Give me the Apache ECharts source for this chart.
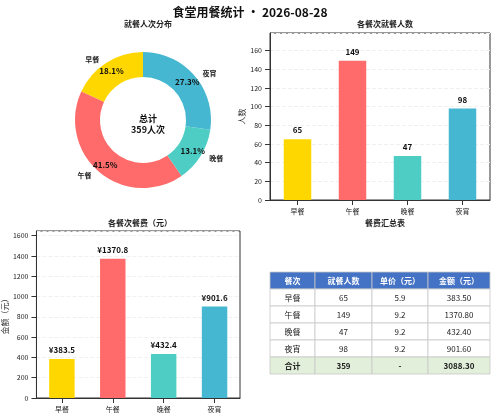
<!DOCTYPE html><html><head><meta charset="utf-8"><script src="https://cdn.jsdelivr.net/npm/echarts@6/dist/echarts.min.js"></script></head><body style="margin:0"><div id="c" style="width:500px;height:413px"></div><script>
const meals=['早餐','午餐','晚餐','夜宵'];
const counts=[65,149,47,98];
const prices=[5.9,9.2,9.2,9.2];
const amounts=[383.5,1370.8,432.4,901.6];
const colors=['#FFD700','#FF6B6B','#4ECDC4','#45B7D1'];
const headers=['餐次','就餐人数','单价（元）','金额（元）'];
const total=counts.reduce((a,b)=>a+b,0);
const totalAmt=amounts.reduce((a,b)=>a+b,0);
const F='"Noto Sans CJK SC",sans-serif';
const ch=echarts.init(document.getElementById('c'));
const pieData=meals.map((m,i)=>({name:m,value:counts[i],itemStyle:{color:colors[i]}}));
const colX=[270,315,372,428,490], rowY=272, rh=17;
const rows=[headers].concat(meals.map((m,i)=>[m,String(counts[i]),prices[i].toFixed(1),amounts[i].toFixed(2)])).concat([['合计',String(total),'-',totalAmt.toFixed(2)]]);
const g=[];
rows.forEach((r,ri)=>{r.forEach((t,ci)=>{
 const fill=ri===0?'#4472C4':(ri===rows.length-1?'#E2EFDA':'#fff');
 g.push({type:'rect',shape:{x:colX[ci],y:rowY+ri*rh,width:colX[ci+1]-colX[ci],height:rh},style:{fill:fill,stroke:'#c8c8c8',lineWidth:0.8}});
 g.push({type:'text',x:(colX[ci]+colX[ci+1])/2,y:rowY+ri*rh+rh/2,style:{text:t,align:'center',verticalAlign:'middle',font:((ri===0||ri===rows.length-1)?'bold ':'')+'8px '+F,fill:ri===0?'#fff':'#222'}});
});});
const axisCommon={axisLine:{show:true,lineStyle:{color:'#333'}},axisTick:{show:true,alignWithLabel:true,lineStyle:{color:'#333'}},axisLabel:{fontSize:7,color:'#222',fontFamily:F}};
const yLab=(o)=>Object.assign({},axisCommon,{axisLabel:{fontSize:7,color:'#222',fontFamily:F,showMaxLabel:false,formatter:v=>String(v)},axisTick:{show:true,lineStyle:{color:'#333'}}},o);
ch.setOption({
 animation:false,
 textStyle:{fontFamily:F},
 title:[
  {text:'食堂用餐统计 • 2026-08-28',left:'center',top:1,textStyle:{fontSize:12,fontWeight:'bold',color:'#111'}},
  {text:'就餐人次分布',left:143,textAlign:'center',top:15,textStyle:{fontSize:8,fontWeight:'bold',color:'#222'}},
  {text:'各餐次就餐人数',left:380,textAlign:'center',top:15,textStyle:{fontSize:8,fontWeight:'bold',color:'#222'}},
  {text:'各餐次餐费（元）',left:135,textAlign:'center',top:214,textStyle:{fontSize:8,fontWeight:'bold',color:'#222'}},
  {text:'餐费汇总表',left:380,textAlign:'center',top:214,textStyle:{fontSize:8,fontWeight:'bold',color:'#222'}},
  {text:'总计\n'+total+'人次',left:143,top:108,textAlign:'center',textStyle:{fontSize:9,fontWeight:'bold',color:'#111',lineHeight:11}}
 ],
 grid:[
  {left:270,right:10,top:33,bottom:213,show:true,borderColor:'#333'},
  {left:31,right:260,top:231,bottom:15,show:true,borderColor:'#333'}
 ],
 xAxis:[
  Object.assign({type:'category',data:meals,gridIndex:0},axisCommon),
  Object.assign({type:'category',data:meals,gridIndex:1},axisCommon)
 ],
 yAxis:[
  yLab({type:'value',gridIndex:0,min:0,max:178.8,interval:20,name:'人数',nameLocation:'middle',nameGap:20,nameTextStyle:{fontSize:8},splitLine:{lineStyle:{color:'#f0f0f0',type:'dashed'}}}),
  yLab({type:'value',gridIndex:1,min:0,max:1645,interval:200,name:'金额（元）',nameLocation:'middle',nameGap:22,nameTextStyle:{fontSize:8},splitLine:{lineStyle:{color:'#f0f0f0',type:'dashed'}}})
 ],
 graphic:g,
 series:[
  {type:'pie',center:[143,120],radius:[43,68],startAngle:90,clockwise:false,data:pieData,label:{position:'inside',formatter:p=>p.percent.toFixed(1)+'%',fontSize:8,fontWeight:'bold',color:'#111'},labelLine:{show:false}},
  {type:'pie',center:[143,120],radius:[43,68],startAngle:90,clockwise:false,silent:true,data:meals.map((m,i)=>({name:m,value:counts[i],itemStyle:{color:'transparent'}})),label:{position:'outside',formatter:'{b}',fontSize:7,fontWeight:'bold',color:'#222'},labelLine:{show:false,length:4,length2:0}},
  {type:'bar',xAxisIndex:0,yAxisIndex:0,barWidth:'50%',data:counts.map((v,i)=>({value:v,itemStyle:{color:colors[i]}})),label:{show:true,position:'top',fontSize:8,fontWeight:'bold',color:'#111'}},
  {type:'bar',xAxisIndex:1,yAxisIndex:1,barWidth:'50%',data:amounts.map((v,i)=>({value:v,itemStyle:{color:colors[i]}})),label:{show:true,position:'top',fontSize:8,fontWeight:'bold',color:'#111',formatter:p=>'¥'+p.value.toFixed(1)}}
 ]
});
</script></body></html>
